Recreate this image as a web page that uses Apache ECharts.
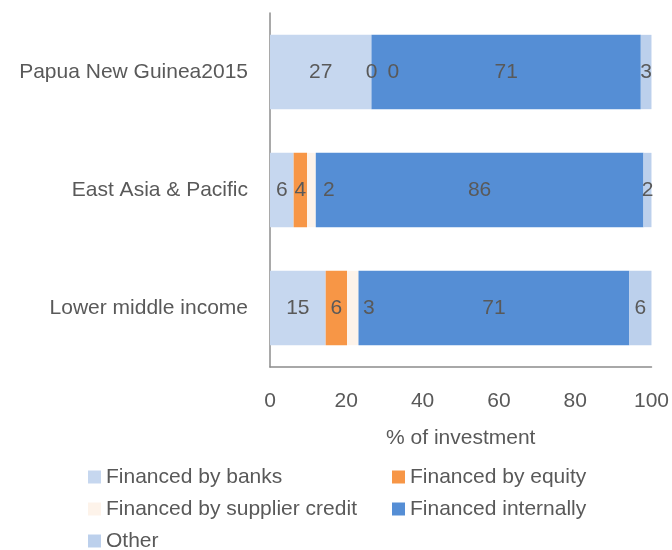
<!DOCTYPE html>
<html lang="en">
<head>
    <meta charset="UTF-8">
    <title>Sources of investment finance</title>
    <style>
        html, body {
            margin: 0;
            padding: 0;
            background: #ffffff;
        }
        #container {
            width: 672px;
            height: 550px;
        }
    </style>
</head>
<body>
    <div id="container"></div>
    <script type="text/javascript" src="https://cdn.jsdelivr.net/npm/echarts@6/dist/echarts.min.js"></script>
    <script type="text/javascript">
        // categories, top to bottom
        var categories = ['Papua New Guinea2015', 'East Asia & Pacific', 'Lower middle income'];

        // % of investment, one array per source
        var banks = [26.6, 6.2, 14.6];
        var equity = [0, 3.5, 5.6];
        var supplier = [0, 2.3, 3.0];
        var internally = [70.6, 85.9, 71.0];
        var other = [2.8, 2.1, 5.8];

        var xTicks = [0, 20, 40, 60, 80, 100];

        var font = 'Liberation Sans';
        var grey = '#595959';

        var dom = document.getElementById('container');
        var myChart = echarts.init(dom, null, {renderer: 'canvas'});

        function makeSeries(name, data, color, label) {
            return {
                name: name,
                type: 'bar',
                stack: 'total',
                barCategoryGap: '37%',
                itemStyle: {color: color},
                label: Object.assign({
                    show: true,
                    position: 'inside',
                    color: grey,
                    fontFamily: font,
                    fontSize: 21,
                    formatter: function (p) {
                        return Math.round(p.value);
                    }
                }, label || {}),
                emphasis: {disabled: true},
                data: data
            };
        }

        // one legend per row so the two columns line up
        function legendRow(names, top) {
            return {
                data: names,
                left: 88,
                top: top,
                width: 584,
                padding: 0,
                orient: 'horizontal',
                icon: 'rect',
                itemWidth: 13,
                itemHeight: 13,
                itemGap: 30,
                selectedMode: false,
                textStyle: {
                    color: grey,
                    fontFamily: font,
                    fontSize: 21,
                    width: 256,
                    lineHeight: 24
                }
            };
        }

        var option = {
            animation: false,
            grid: {
                left: 270,
                right: 20,
                top: 13,
                bottom: 183
            },
            legend: [
                legendRow(['Financed by banks', 'Financed by equity'], 465),
                legendRow(['Financed by supplier credit', 'Financed internally'], 497),
                legendRow(['Other'], 529)
            ],
            xAxis: {
                type: 'value',
                min: xTicks[0],
                max: xTicks[xTicks.length - 1],
                interval: 20,
                name: '% of investment',
                nameLocation: 'middle',
                nameGap: 61,
                nameTextStyle: {
                    color: grey,
                    fontFamily: font,
                    fontSize: 21
                },
                axisLine: {
                    show: true,
                    lineStyle: {color: '#8c8c8c', width: 1.5}
                },
                axisTick: {show: false},
                splitLine: {show: false},
                axisLabel: {
                    color: grey,
                    fontFamily: font,
                    fontSize: 21,
                    margin: 24
                }
            },
            yAxis: {
                type: 'category',
                inverse: true,
                data: categories,
                axisLine: {
                    show: true,
                    lineStyle: {color: '#8c8c8c', width: 1.5}
                },
                axisTick: {show: false},
                axisLabel: {
                    color: grey,
                    fontFamily: font,
                    fontSize: 21,
                    margin: 22
                }
            },
            series: [
                makeSeries('Financed by banks', banks, '#c6d7ef'),
                makeSeries('Financed by equity', equity, '#f79646'),
                makeSeries('Financed by supplier credit', supplier, '#fdf3ea', {
                    position: 'insideLeft',
                    distance: 16
                }),
                makeSeries('Financed internally', internally, '#558ed5'),
                makeSeries('Other', other, '#bcd0ec')
            ]
        };

        if (option && typeof option === 'object') {
            myChart.setOption(option);
        }
    </script>
</body>
</html>
